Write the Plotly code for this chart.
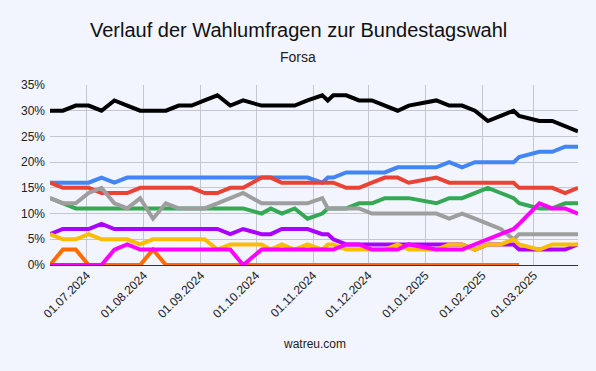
import plotly.graph_objects as go

# ---- data ----
dates = [
    "2024-06-11", "2024-06-18", "2024-06-25", "2024-07-02", "2024-07-09",
    "2024-07-16", "2024-07-23", "2024-07-30", "2024-08-06", "2024-08-13",
    "2024-08-20", "2024-08-27", "2024-09-03", "2024-09-10", "2024-09-17",
    "2024-09-24", "2024-10-04", "2024-10-09", "2024-10-15", "2024-10-22",
    "2024-10-29", "2024-11-06", "2024-11-09", "2024-11-12", "2024-11-19",
    "2024-11-26", "2024-12-03", "2024-12-10", "2024-12-17", "2024-12-23",
    "2025-01-07", "2025-01-14", "2025-01-21", "2025-01-28", "2025-02-04",
    "2025-02-11", "2025-02-18", "2025-02-21", "2025-03-04", "2025-03-11",
    "2025-03-18", "2025-03-25",
]

cdu_csu = [30, 30, 31, 31, 30, 32, 31, 30, 30, 30, 31, 31, 32, 33, 31, 32, 31, 31, 31, 31,
           32, 33, 32, 33, 33, 32, 32, 31, 30, 31, 32, 31, 31, 30, 28, 29, 30, 29, 28, 28, 27, 26]
afd = [16, 16, 16, 16, 17, 16, 17, 17, 17, 17, 17, 17, 17, 17, 17, 17, 17, 17, 17, 17,
       17, 16, 17, 17, 18, 18, 18, 18, 19, 19, 19, 20, 19, 20, 20, 20, 20, 21, 22, 22, 23, 23]
spd = [16, 15, 15, 15, 14, 14, 14, 15, 15, 15, 15, 15, 14, 14, 15, 15, 17, 17, 16, 16,
       16, 16, 16, 16, 15, 15, 16, 17, 17, 16, 17, 16, 16, 16, 16, 16, 16, 15, 15, 15, 14, 15]
gruene = [13, 12, 11, 11, 11, 11, 11, 11, 11, 11, 11, 11, 11, 11, 11, 11, 10, 11, 10, 11,
          9, 10, 11, 11, 11, 12, 12, 13, 13, 13, 12, 13, 13, 14, 15, 14, 13, 12, 11, 11, 12, 12]
sonstige = [13, 12, 12, 14, 15, 12, 11, 13, 9, 12, 11, 11, 11, 12, 13, 14, 12, 12, 12, 12,
            12, 13, 11, 11, 11, 11, 10, 10, 10, 10, 10, 9, 10, 9, 8, 7, 5, 6, 6, 6, 6, 6]
bsw = [6, 7, 7, 7, 8, 7, 7, 7, 7, 7, 7, 7, 7, 7, 6, 7, 6, 6, 7, 7,
       7, 6, 6, 5, 4, 4, 4, 4, 4, 4, 4, 4, 4, 3, 4, 4, 4, 3, 3, 3, 3, 4]
fdp = [6, 5, 5, 6, 5, 5, 5, 4, 5, 5, 5, 5, 5, 3, 4, 4, 4, 3, 4, 3,
       4, 3, 4, 4, 3, 3, 3, 3, 4, 3, 3, 4, 4, 3, 4, 4, 5, 4, 3, 4, 4, 4]
freie_waehler = [0, 3, 3, 0, 0, 0, 0, 0, 3, 0, 0, 0, 0, 0, 0, 0, 0, 0, 0, 0,
                 0, 0, 0, 0, 0, 0, 0, 0, 0, 0, 0, 0, 0, 0, 0, 0, 0, 0, None, None, None, None]
linke = [0, 0, 0, 0, 0, 3, 4, 3, 3, 3, 3, 3, 3, 3, 3, 0, 3, 3, 3, 3,
         3, 3, 3, 3, 4, 4, 3, 3, 3, 4, 3, 3, 3, 4, 5, 6, 7, 8, 12, 11, 11, 10]

series = [
    ("CDU/CSU", cdu_csu, "#000000"),
    ("AfD", afd, "#4285f4"),
    ("SPD", spd, "#ea4335"),
    ("Grüne", gruene, "#34a853"),
    ("Sonstige", sonstige, "#9e9e9e"),
    ("BSW", bsw, "#aa00ff"),
    ("FDP", fdp, "#fbbc04"),
    ("Freie Wähler", freie_waehler, "#ff6d00"),
    ("Linke", linke, "#ff00ff"),
]

BG = "#f2f4fe"
GRID = "#c4c6d2"
FONT = "Liberation Sans, Arial, sans-serif"

fig = go.Figure()
for name, vals, color in series:
    fig.add_trace(go.Scatter(
        x=dates, y=vals, mode="lines", name=name,
        line=dict(color=color, width=4), connectgaps=False,
    ))

fig.update_layout(
    width=596, height=371,
    margin=dict(l=50, r=18, t=85, b=106),
    paper_bgcolor=BG, plot_bgcolor=BG,
    showlegend=False,
    font=dict(family=FONT, color="#222222", size=12),
    annotations=[
        dict(text="Verlauf der Wahlumfragen zur Bundestagswahl", xref="paper", yref="paper",
             x=0.470, y=1.308, xanchor="center", yanchor="middle", showarrow=False,
             font=dict(size=20, color="#111111", family=FONT)),
        dict(text="Forsa", xref="paper", yref="paper",
             x=0.470, y=1.158, xanchor="center", yanchor="middle", showarrow=False,
             font=dict(size=14, color="#222222", family=FONT)),
        dict(text="watreu.com", xref="paper", yref="paper",
             x=0.5, y=-0.44, xanchor="center", yanchor="middle", showarrow=False,
             font=dict(size=12, color="#222222", family=FONT)),
    ],
)

fig.update_xaxes(
    type="date",
    range=["2024-06-11", "2025-03-25"],
    tick0="2024-07-01", dtick="M1", tickformat="%d.%m.%Y",
    tickangle=-45, showgrid=True, gridcolor=GRID, gridwidth=1,
    zeroline=False, showline=False, ticks="",
    tickfont=dict(size=12, color="#222222"),
)
fig.update_yaxes(
    range=[0, 35], dtick=5, ticksuffix="%",
    showgrid=True, gridcolor=GRID, gridwidth=1,
    zeroline=True, zerolinecolor="#333333", zerolinewidth=1,
    showline=False, ticks="", ticklabelstandoff=4,
    tickfont=dict(size=12, color="#222222"),
)

fig.write_html("out.html",
               config={"displayModeBar": False},
               post_script="document.body.style.margin='0';document.body.style.overflow='hidden';")
